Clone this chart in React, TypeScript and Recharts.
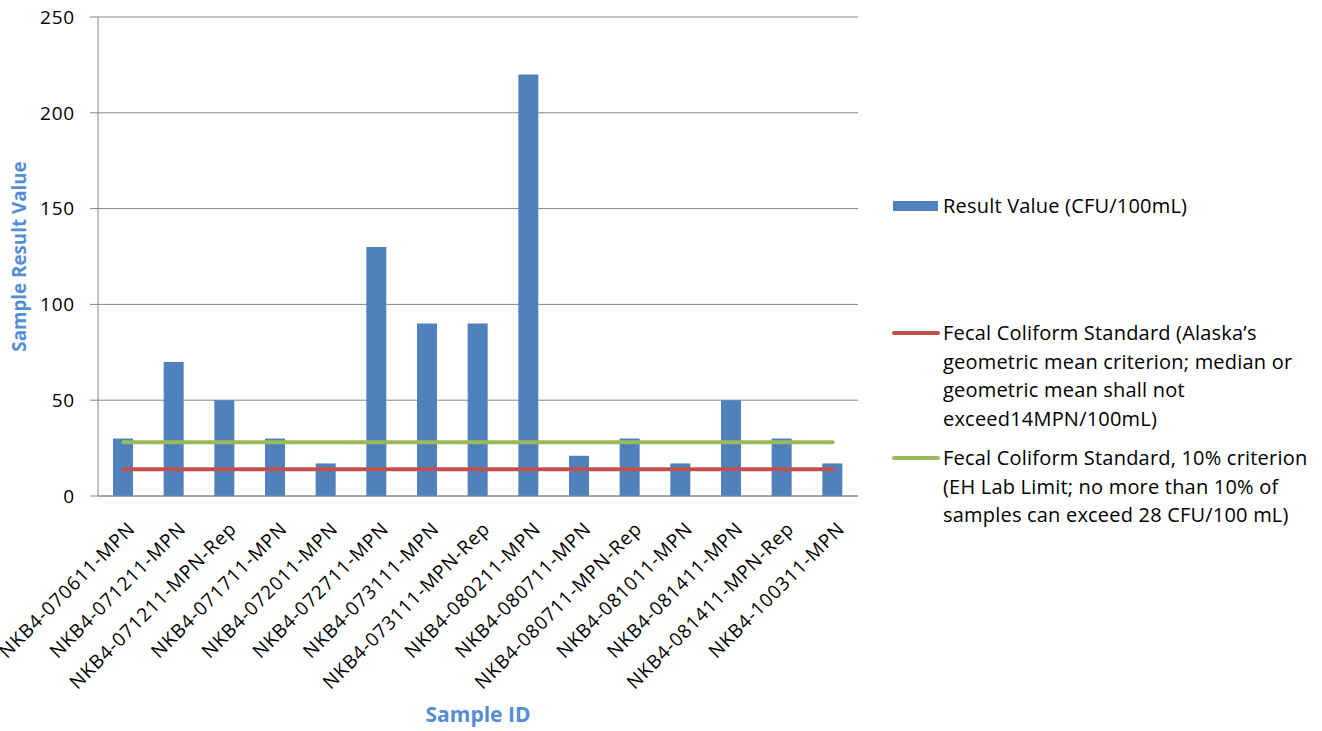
import React from 'react';
import { ComposedChart, Bar, Line, XAxis, YAxis, CartesianGrid, Label } from 'recharts';

const sampleIds = [
  'NKB4-070611-MPN',
  'NKB4-071211-MPN',
  'NKB4-071211-MPN-Rep',
  'NKB4-071711-MPN',
  'NKB4-072011-MPN',
  'NKB4-072711-MPN',
  'NKB4-073111-MPN',
  'NKB4-073111-MPN-Rep',
  'NKB4-080211-MPN',
  'NKB4-080711-MPN',
  'NKB4-080711-MPN-Rep',
  'NKB4-081011-MPN',
  'NKB4-081411-MPN',
  'NKB4-081411-MPN-Rep',
  'NKB4-100311-MPN',
];
const resultValues = [30, 70, 50, 30, 17, 130, 90, 90, 220, 21, 30, 17, 50, 30, 17];
const geoMeanStandard = [14, 14, 14, 14, 14, 14, 14, 14, 14, 14, 14, 14, 14, 14, 14];
const tenPercentStandard = [28, 28, 28, 28, 28, 28, 28, 28, 28, 28, 28, 28, 28, 28, 28];
const yTicks = [0, 50, 100, 150, 200, 250];
// category boundaries for the tick marks under the x axis
const boundaryTicks = [...sampleIds.map((_, i) => i), sampleIds.length];

const legendItems = [
  { kind: 'bar', color: '#4F81BD', lines: ['Result Value (CFU/100mL)'] },
  {
    kind: 'line',
    color: '#C0504D',
    lines: [
      'Fecal Coliform Standard (Alaska\u2019s',
      'geometric mean criterion; median or',
      'geometric mean shall not',
      'exceed14MPN/100mL)',
    ],
  },
  {
    kind: 'line',
    color: '#9BBB59',
    lines: [
      'Fecal Coliform Standard, 10% criterion',
      '(EH Lab Limit; no more than 10% of',
      'samples can exceed 28 CFU/100 mL)',
    ],
  },
];

const data = sampleIds.map((id, i) => ({
  id,
  result: resultValues[i],
  geo: geoMeanStandard[i],
  tenPct: tenPercentStandard[i],
}));

const FONT = '"Open Sans", "Noto Sans", sans-serif';
const AXIS_GRAY = '#868686';
const TITLE_BLUE = '#558ED5';

const SampleTick = (props: any) => {
  const { x, y, payload } = props;
  return (
    <g transform={`translate(${x + 13},${y + 34})`}>
      <text
        transform="rotate(-45)"
        textAnchor="end"
        fontSize={19}
        letterSpacing={0.9}
        fontFamily={FONT}
        fill="#000"
      >
        {payload.value}
      </text>
    </g>
  );
};

const legendTops = [192, 319, 444];

export default function App() {
  return (
    <div style={{ position: 'absolute', left: 0, top: 0, width: 1322, height: 731, background: '#fff' }}>
      <ComposedChart
        width={1322}
        height={731}
        data={data}
        margin={{ top: 17, right: 464, bottom: 0, left: 0 }}
        barCategoryGap="30%"
      >
        <CartesianGrid vertical={false} stroke={AXIS_GRAY} strokeWidth={1} />
        <XAxis
          xAxisId="bounds"
          type="number"
          domain={[0, sampleIds.length]}
          ticks={boundaryTicks}
          height={0}
          axisLine={false}
          tick={false}
          tickLine={{ stroke: AXIS_GRAY }}
          tickSize={8}
          allowDataOverflow
        />
        <XAxis
          dataKey="id"
          height={235}
          interval={0}
          axisLine={{ stroke: AXIS_GRAY }}
          tickLine={false}
          tickSize={0}
          tickMargin={0}
          tick={<SampleTick />}
        >
          <Label
            value="Sample ID"
            position="insideBottom"
            offset={9}
            fill={TITLE_BLUE}
            fontSize={21}
            fontWeight="bold"
            fontFamily={FONT}
          />
        </XAxis>
        <YAxis
          width={98}
          domain={[0, 250]}
          ticks={yTicks}
          interval={0}
          axisLine={{ stroke: AXIS_GRAY }}
          tickLine={{ stroke: AXIS_GRAY }}
          tickSize={8}
          tickMargin={15}
          tick={{ fill: '#000', fontSize: 19, fontFamily: FONT, letterSpacing: 0.8 }}
        >
          <Label
            value="Sample Result Value"
            angle={-90}
            position="insideLeft"
            offset={19}
            fill={TITLE_BLUE}
            fontSize={18.8}
            fontWeight="bold"
            fontFamily={FONT}
            style={{ textAnchor: 'middle' }}
          />
        </YAxis>
        <Bar dataKey="result" fill="#4F81BD" barSize={20} isAnimationActive={false} />
        <Line
          dataKey="geo"
          stroke="#C0504D"
          strokeWidth={4}
          dot={false}
          type="linear"
          strokeLinecap="round"
          isAnimationActive={false}
        />
        <Line
          dataKey="tenPct"
          stroke="#9BBB59"
          strokeWidth={4}
          dot={false}
          type="linear"
          strokeLinecap="round"
          isAnimationActive={false}
        />
      </ComposedChart>

      {legendItems.map((item, i) => (
        <div
          key={i}
          style={{
            position: 'absolute',
            left: 892,
            top: legendTops[i],
            display: 'flex',
            alignItems: 'flex-start',
            fontFamily: FONT,
            fontSize: 20,
            letterSpacing: 0.2,
            lineHeight: '28.5px',
            color: '#000',
            whiteSpace: 'nowrap',
          }}
        >
          <div style={{ width: 51, height: 28.5, position: 'relative' }}>
            {item.kind === 'bar' ? (
              <div style={{ position: 'absolute', left: 1, top: 9, width: 45, height: 10, background: item.color }} />
            ) : (
              <div style={{ position: 'absolute', left: 0, top: 12, width: 48, height: 4, borderRadius: 2, background: item.color }} />
            )}
          </div>
          <div>
            {item.lines.map((ln, j) => (
              <div key={j}>{ln}</div>
            ))}
          </div>
        </div>
      ))}
    </div>
  );
}
